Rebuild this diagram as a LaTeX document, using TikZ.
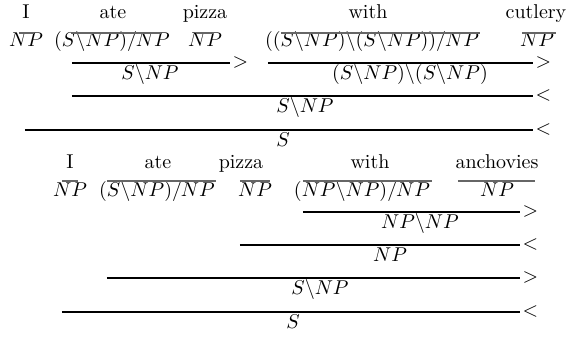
\documentclass[tikz,border=0pt]{standalone}
\begin{document}
\begin{tikzpicture}[x=0.5pt,y=-0.5pt,
  txt/.style={anchor=base,inner sep=0pt},
  lex/.style={draw=black!60,line width=0.6pt},
  comb/.style={draw=black,line width=0.6pt},
  rule/.style={anchor=west,inner sep=1pt}]
\useasboundingbox (0,0) rectangle (570,347);
% ---------- top derivation ----------
\node[txt] (w1) at (26,19) {I};
\node[txt] (w2) at (113,19) {ate};
\node[txt] (w3) at (205,19) {pizza};
\node[txt] (w4) at (368,19) {with};
\node[txt] (w5) at (536,19) {cutlery};
\node[txt] (c1) at (26,47) {$NP$};
\node[txt] (c2) at (112,47) {$(S\backslash NP)/NP$};
\node[txt] (c3) at (205,47) {$NP$};
\node[txt] (c4) at (372,47) {$((S\backslash NP)\backslash(S\backslash NP))/NP$};
\node[txt] (c5) at (537,47) {$NP$};
\draw[lex] (19,33) -- (34,33);
\draw[lex] (71,33) -- (161,33);
\draw[lex] (196,33) -- (214,33);
\draw[lex] (281,33) -- (480,33);
\draw[lex] (522,33) -- (556,33);
\draw[comb] (72,63) -- (230,63) node[rule] (r1) {$>$};
\node[txt] (d1) at (150,80) {$S\backslash NP$};
\draw[comb] (268,63) -- (533,63) node[rule] (r2) {$>$};
\node[txt] (d2) at (410,80) {$(S\backslash NP)\backslash(S\backslash NP)$};
\draw[comb] (72,96) -- (533,96) node[rule] (r3) {$<$};
\node[txt] (d3) at (305,113) {$S\backslash NP$};
\draw[comb] (25,130) -- (533,130) node[rule] (r4) {$<$};
\node[txt] (d4) at (283,147) {$S$};
% ---------- bottom derivation ----------
\node[txt] (v1) at (70,169) {I};
\node[txt] (v2) at (158,169) {ate};
\node[txt] (v3) at (241,169) {pizza};
\node[txt] (v4) at (370,169) {with};
\node[txt] (v5) at (497,169) {anchovies};
\node[txt] (e1) at (70,197) {$NP$};
\node[txt] (e2) at (157,197) {$(S\backslash NP)/NP$};
\node[txt] (e3) at (255,197) {$NP$};
\node[txt] (e4) at (362,197) {$(NP\backslash NP)/NP$};
\node[txt] (e5) at (497,197) {$NP$};
\draw[lex] (62,181) -- (78,181);
\draw[lex] (107,181) -- (216,181);
\draw[lex] (240,181) -- (270,181);
\draw[lex] (303,181) -- (432,181);
\draw[lex] (458,181) -- (535,181);
\draw[comb] (303,212) -- (520,212) node[rule] (s1) {$>$};
\node[txt] (f1) at (420,229) {$NP\backslash NP$};
\draw[comb] (240,245) -- (520,245) node[rule] (s2) {$<$};
\node[txt] (f2) at (390,262) {$NP$};
\draw[comb] (107,278) -- (520,278) node[rule] (s3) {$>$};
\node[txt] (f3) at (320,295) {$S\backslash NP$};
\draw[comb] (62,312) -- (520,312) node[rule] (s4) {$<$};
\node[txt] (f4) at (293,329) {$S$};
\end{tikzpicture}
\end{document}
